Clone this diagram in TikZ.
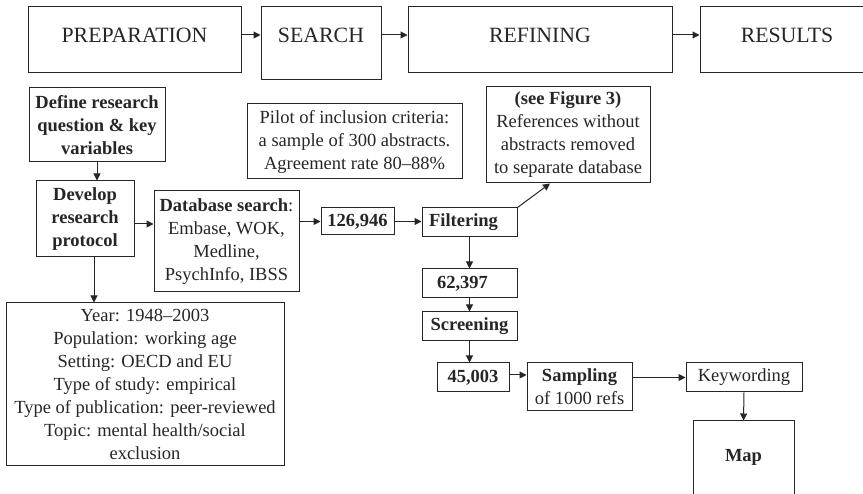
\documentclass[tikz,border=0pt]{standalone}
\usepackage{fontspec}
\setmainfont{Liberation Serif}
\usetikzlibrary{arrows.meta}
\begin{document}
\begin{tikzpicture}[x=1pt, y=-1pt,
		every node/.style={font=\fontsize{18.5}{23}\selectfont, text=black!85},
		box/.style={draw=black!85, line width=1pt, inner sep=0pt, align=center},
		stage/.style={box, font=\fontsize{21.8}{25}\selectfont, minimum height=66pt, text depth=10pt},
		arr/.style={draw=black!85, line width=1pt, -{Triangle[length=7pt, width=7pt]}}]
	\clip (0,0) rectangle (863,494);
	\fill[white] (0,0) rectangle (863,494);

	% stages
	\node[stage, minimum width=213pt] (prep) at (134.5,40) {PREPARATION};
	\node[stage, minimum width=120pt, minimum height=73pt, text depth=17pt] (search) at (321,43.5) {SEARCH};
	\node[stage, minimum width=264pt] (refine) at (540,40) {REFINING};
	\node[stage, minimum width=174pt] (results) at (787,40) {RESULTS};
	\draw[arr] (prep.east |- 0,35) -- (search.west |- 0,35);
	\draw[arr] (search.east |- 0,35) -- (refine.west |- 0,35);
	\draw[arr] (refine.east |- 0,35) -- (results.west |- 0,35);

	% preparation
	\node[box, minimum width=136pt, minimum height=74pt] (define) at (97,125) {\textbf{Define research}\\\textbf{question \& key}\\\textbf{variables}};
	\node[box, minimum width=98pt, minimum height=76pt] (develop) at (85,219) {\textbf{Develop}\\\textbf{research}\\\textbf{protocol}};
	\node[box, minimum width=278pt, minimum height=163pt] (criteria) at (145,384.5) {Year: 1948--2003\\Population: working age\\Setting: OECD and EU\\Type of study: empirical\\Type of publication: peer-reviewed\\Topic: mental health/social\\exclusion};
	\draw[arr] (define.south) -- (define.south |- develop.north);
	\draw[arr] ([xshift=9pt]develop.south) -- ([xshift=9pt]develop.south |- criteria.north);

	% search
	\node[box, minimum width=145pt, minimum height=101pt] (dbase) at (226.5,241.5) {\textbf{Database search}:\\Embase, WOK,\\Medline,\\PsychInfo, IBSS};
	\node[box, minimum width=215pt, minimum height=75pt] (pilot) at (354.5,141.5) {Pilot of inclusion criteria:\\a sample of 300 abstracts.\\Agreement rate 80--88\%};
	\node[box, minimum width=73pt, minimum height=27pt] (hits) at (357.5,221.5) {\textbf{126,946}};
	\draw[arr] ([yshift=-5pt]develop.east) -- ([yshift=-5pt]develop.east -| dbase.west);
	\draw[arr] (dbase.east |- hits.west) -- (hits.west);

	% refining
	\node[box, minimum width=95pt, minimum height=29pt] (filter) at (469.5,222.5) {\textbf{Filtering}\hspace{12pt}};
	\node[box, minimum width=164pt, minimum height=96pt] (fig) at (568,135) {\textbf{(see Figure 3)}\\References without\\abstracts removed\\to separate database};
	\node[box, minimum width=95pt, minimum height=29pt] (kept) at (469.5,283.5) {\textbf{62,397}\hspace{14pt}};
	\node[box, minimum width=95pt, minimum height=29pt] (screen) at (469.5,326.5) {\textbf{Screening}};
	\node[box, minimum width=72pt, minimum height=29pt] (left) at (473,377.5) {\textbf{45,003}};
	\node[box, minimum width=105pt, minimum height=48pt] (sample) at (579.5,387) {\textbf{Sampling}\\of 1000 refs};
	\draw[arr] (hits.east) -- (hits.east -| filter.west);
	\draw[arr] (filter.north east) -- ([xshift=-18pt]fig.south);
	\draw[arr] (filter.south) -- (kept.north);
	\draw[arr] (kept.south) -- (screen.north);
	\draw[arr] (screen.south) -- (screen.south |- left.north);
	\draw[arr] ([yshift=2.5pt]left.east) -- ([yshift=2.5pt]left.east -| sample.west);

	% results
	\node[box, minimum width=116pt, minimum height=29pt] (keyword) at (744,377.5) {Keywording};
	\node[box, minimum width=101pt, minimum height=100pt, text depth=31pt] (map) at (743.5,471) {\textbf{Map}};
	\draw[arr] (keyword.west -| sample.east) -- (keyword.west);
	\draw[arr] (keyword.south) -- (map.north);
\end{tikzpicture}
\end{document}
